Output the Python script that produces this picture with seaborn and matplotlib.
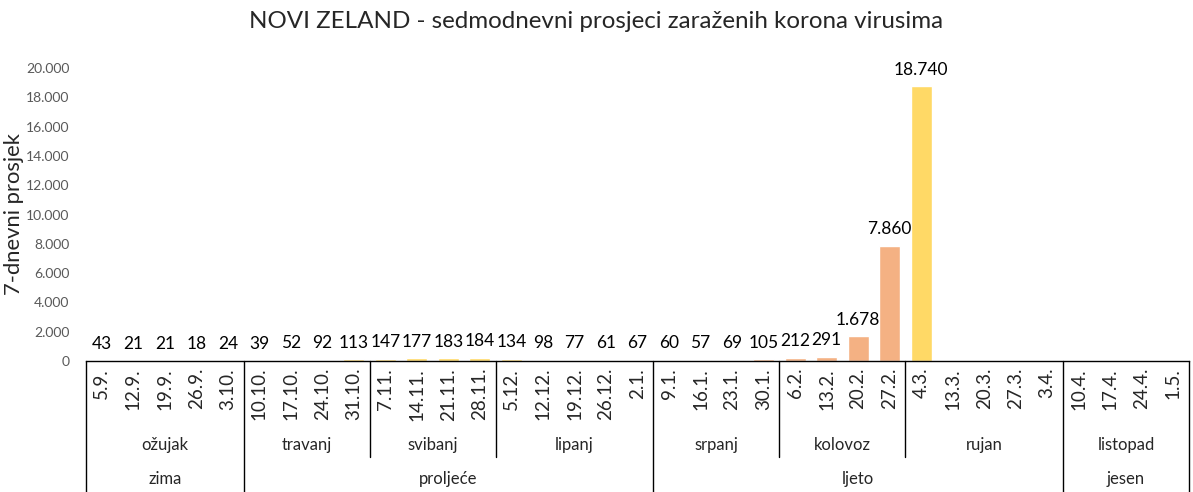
import numpy as np
import pandas as pd
import matplotlib
matplotlib.use("Agg")
import matplotlib.pyplot as plt
import matplotlib.transforms as mtransforms
import seaborn as sns

# ---- data ----
dates = ["5.9.", "12.9.", "19.9.", "26.9.", "3.10.",
         "10.10.", "17.10.", "24.10.", "31.10.",
         "7.11.", "14.11.", "21.11.", "28.11.",
         "5.12.", "12.12.", "19.12.", "26.12.", "2.1.",
         "9.1.", "16.1.", "23.1.", "30.1.",
         "6.2.", "13.2.", "20.2.", "27.2.",
         "4.3.", "13.3.", "20.3.", "27.3.", "3.4.",
         "10.4.", "17.4.", "24.4.", "1.5."]
values = [43, 21, 21, 18, 24,
          39, 52, 92, 113,
          147, 177, 183, 184,
          134, 98, 77, 61, 67,
          60, 57, 69, 105,
          212, 291, 1678, 7860,
          18740, np.nan, np.nan, np.nan, np.nan,
          np.nan, np.nan, np.nan, np.nan]
months = ["ožujak", "travanj", "svibanj", "lipanj", "srpanj", "kolovoz", "rujan", "listopad"]
month_sizes = [5, 4, 4, 5, 4, 4, 5, 4]
seasons = ["zima", "proljeće", "ljeto", "jesen"]
season_sizes = [5, 13, 13, 4]
month_colors = ["#9DC3E6", "#FFD966", "#FFD966", "#FFD966", "#F4B183", "#F4B183", "#FFD966", "#FFD966"]

title = "NOVI ZELAND - sedmodnevni prosjeci zaraženih korona virusima"
ylabel = "7-dnevni prosjek"
yticks = list(range(0, 20001, 2000))

# ---- style ----
sns.set_theme(style="white")
plt.rcParams["font.family"] = ["Lato", "DejaVu Sans"]

bar_month = np.repeat(months, month_sizes)
df = pd.DataFrame({"date": dates, "value": values, "month": bar_month})
palette = {d: month_colors[months.index(m)] for d, m in zip(dates, bar_month)}

W, H = 1193, 492
fig = plt.figure(figsize=(W / 100, H / 100), dpi=100)
ax = fig.add_axes([86 / W, 1 - 361 / H, (1189 - 86) / W, (361 - 68) / H])

sns.barplot(data=df.dropna(), x="date", y="value", hue="date", order=dates,
            palette=palette, legend=False, width=0.67, saturation=1, ax=ax)

ax.set_xlim(-0.5, len(dates) - 0.5)
ax.set_ylim(0, 20000)
ax.set_yticks(yticks)
ax.set_yticklabels([f"{t:,}".replace(",", ".") for t in yticks], color="#595959", fontsize=10)
ax.tick_params(axis="y", length=0, pad=12)
ax.set_xticks(range(len(dates)))
ax.set_xticklabels([])
ax.tick_params(axis="x", length=0)
ax.set_xlabel("")
ax.set_ylabel("")
for s in ["left", "right", "top"]:
    ax.spines[s].set_visible(False)
ax.spines["bottom"].set_color("black")
ax.spines["bottom"].set_linewidth(1)

# data labels
for i, v in enumerate(values):
    if np.isnan(v):
        continue
    ax.annotate(f"{int(v):,}".replace(",", "."), (i, v), xytext=(0, 8.5),
                textcoords="offset points", ha="center", va="baseline",
                fontsize=12.5, color="black", annotation_clip=False)

# multi-level category axis
trans = mtransforms.blended_transform_factory(ax.transData, fig.transFigure)
for i, d in enumerate(dates):
    ax.text(i, 1 - 368 / H, d, rotation=90, ha="center", va="top",
            fontsize=13.5, transform=trans)

y_axis = 1 - 361 / H
y_month_end = 1 - 457 / H
pos = -0.5
bounds = [pos]
for n in month_sizes:
    pos += n
    bounds.append(pos)
season_bounds = [-0.5]
p = -0.5
for n in season_sizes:
    p += n
    season_bounds.append(p)

for b in bounds:
    y_end = 0 if b in season_bounds else y_month_end
    ax.plot([b, b], [y_axis, y_end], color="black", lw=1, transform=trans, clip_on=False)

for m, a, b in zip(months, bounds[:-1], bounds[1:]):
    ax.text((a + b) / 2, 1 - 445 / H, m, ha="center", va="center", fontsize=12, transform=trans)
for s, a, b in zip(seasons, season_bounds[:-1], season_bounds[1:]):
    ax.text((a + b) / 2, 1 - 479 / H, s, ha="center", va="center", fontsize=12, transform=trans)

fig.text(596 / W, 1 - 21 / H, title, ha="center", va="center", fontsize=17.4)
fig.text(14 / W, 1 - 214 / H, ylabel, rotation=90, ha="center", va="center", fontsize=15.8)

fig.savefig("out.png", dpi=100)
